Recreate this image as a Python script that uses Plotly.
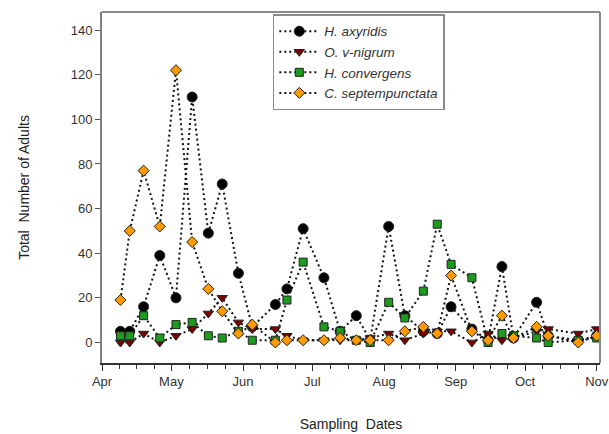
import plotly.graph_objects as go
import pandas as pd

# ---------------- data ----------------
dates = ["2005-04-09", "2005-04-13", "2005-04-19", "2005-04-26", "2005-05-03",
         "2005-05-10", "2005-05-17", "2005-05-23", "2005-05-30", "2005-06-05",
         "2005-06-15", "2005-06-20", "2005-06-27", "2005-07-06", "2005-07-13",
         "2005-07-20", "2005-07-26", "2005-08-03", "2005-08-10", "2005-08-18",
         "2005-08-24", "2005-08-30", "2005-09-08", "2005-09-15", "2005-09-21",
         "2005-09-26", "2005-10-06", "2005-10-11", "2005-10-24", "2005-11-01"]

h_axyridis = [5, 5, 16, 39, 20, 110, 49, 71, 31, 7, 17, 24, 51, 29, 5, 12, 1, 52,
              12, 5, 4, 16, 6, 1, 34, 2, 18, 3, 1, 3]
o_vnigrum = [0, 0, 4, 0, 3, 6, 13, 20, 9, 6, 6, 3, 1, 1, 1, 1, 2, 4, 1, 4, 5, 5,
             0, 4, 1, 2, 5, 6, 4, 6]
h_convergens = [3, 3, 12, 2, 8, 9, 3, 2, 5, 1, 1, 19, 36, 7, 5, 1, 0, 18, 11, 23,
                53, 35, 29, 0, 4, 3, 2, 0, 1, 2]
c_septem = [19, 50, 77, 52, 122, 45, 24, 14, 4, 8, 0, 1, 1, 1, 2, 1, 1, 1, 5, 7,
            4, 30, 5, 1, 12, 2, 7, 3, 0, 3]

series_names = ["H. axyridis", "O. v-nigrum", "H. convergens", "C. septempunctata"]
series_values = [h_axyridis, o_vnigrum, h_convergens, c_septem]

month_ticks = ["2005-04-01", "2005-05-01", "2005-06-01", "2005-07-01",
               "2005-08-01", "2005-09-01", "2005-10-01", "2005-11-01"]
month_labels = ["Apr", "May", "Jun", "Jul", "Aug", "Sep", "Oct", "Nov"]
y_ticks = [0, 20, 40, 60, 80, 100, 120, 140]

# ---------------- styles ----------------
styles = [
    dict(symbol="circle", color="#000000", size=10),
    dict(symbol="triangle-down", color="#7A0000", size=9),
    dict(symbol="square", color="#1E9A1E", size=8),
    dict(symbol="diamond", color="#FF9A00", size=8.5),
]

fig = go.Figure()
for name, vals, st in zip(series_names, series_values, styles):
    fig.add_trace(go.Scatter(
        x=pd.to_datetime(dates), y=vals, name="<i>" + name + "</i>",
        mode="lines+markers",
        line=dict(color="#111111", width=2, dash="2px,3px"),
        marker=dict(symbol=st["symbol"], color=st["color"], size=st["size"],
                    line=dict(color="#222222", width=1)),
    ))

# quarter-month minor ticks
mt = pd.to_datetime(month_ticks)
minor_vals = []
for a, b in zip(mt[:-1], mt[1:]):
    for k in (1, 2, 3):
        minor_vals.append(a + (b - a) * k / 4)

fig.update_layout(
    width=609, height=434,
    margin=dict(l=102, r=9, t=12, b=71),
    paper_bgcolor="white", plot_bgcolor="white",
    font=dict(family="Liberation Sans, Arial, sans-serif", color="#222222"),
    showlegend=True,
    legend=dict(x=0.343, y=0.993, xanchor="left", yanchor="top",
                bgcolor="white", bordercolor="#8a8a8a", borderwidth=1.5,
                font=dict(size=13.5, color="#333333"), itemwidth=40,
                tracegroupgap=0),
    xaxis=dict(
        type="date", automargin=False,
        range=["2005-04-01", "2005-11-02 10:00"],
        tickvals=mt, ticktext=month_labels,
        ticks="outside", ticklen=6, tickwidth=1.2, tickcolor="#333333",
        minor=dict(tickvals=minor_vals, ticks="outside", ticklen=4,
                   tickwidth=1, tickcolor="#333333", showgrid=False),
        showgrid=False, zeroline=False,
        showline=True, linecolor="#333333", linewidth=1.5,
        tickfont=dict(size=13, color="#333333"),
        title=dict(text="Sampling  Dates", font=dict(size=14, color="#222222"),
                   standoff=31),
    ),
    yaxis=dict(
        automargin=False,
        range=[-9.2, 148.1],
        tickvals=y_ticks,
        ticks="outside", ticklen=5, tickwidth=1.2, tickcolor="#555555",
        showgrid=False, zeroline=False,
        showline=True, linecolor="#808080", linewidth=2,
        tickfont=dict(size=13, color="#333333"),
        title=dict(text="Total  Number of Adults", font=dict(size=14, color="#222222"),
                   standoff=38),
    ),
    shapes=[
        dict(type="line", xref="paper", yref="paper", x0=0, x1=1, y0=1, y1=1,
             line=dict(color="#8a8a8a", width=2)),
        dict(type="line", xref="paper", yref="paper", x0=1, x1=1, y0=0, y1=1,
             line=dict(color="#8a8a8a", width=2)),
    ],
)

fig.write_html("out.html")
